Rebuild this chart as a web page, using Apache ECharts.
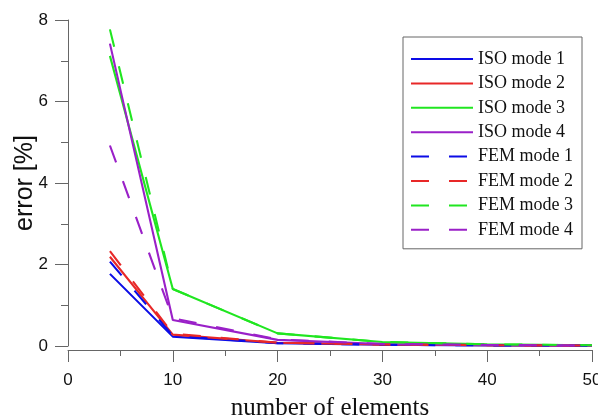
<!DOCTYPE html>
<html>
<head>
<meta charset="utf-8">
<script src="https://cdn.jsdelivr.net/npm/echarts@6/dist/echarts.min.js"></script>
<style>html,body{margin:0;padding:0;background:#fff;}#c{width:598px;height:417px;}</style>
</head>
<body>
<div id="c"></div>
<script>
const elements = [4, 10, 20, 30, 40, 50];
const isoMode1 = [1.77, 0.23, 0.07, 0.03, 0.015, 0.01];
const isoMode2 = [2.19, 0.28, 0.08, 0.035, 0.02, 0.01];
const isoMode3 = [7.12, 1.40, 0.31, 0.10, 0.04, 0.02];
const isoMode4 = [7.42, 0.64, 0.15, 0.05, 0.025, 0.01];
const femMode1 = [2.07, 0.25, 0.07, 0.03, 0.015, 0.01];
const femMode2 = [2.33, 0.30, 0.08, 0.035, 0.02, 0.01];
const femMode3 = [7.77, 1.40, 0.31, 0.10, 0.04, 0.02];
const femMode4 = [4.92, 0.68, 0.16, 0.05, 0.025, 0.01];
const seriesNames = ['ISO mode 1','ISO mode 2','ISO mode 3','ISO mode 4','FEM mode 1','FEM mode 2','FEM mode 3','FEM mode 4'];
const seriesData = [isoMode1, isoMode2, isoMode3, isoMode4, femMode1, femMode2, femMode3, femMode4];
const palette = ['#0c0ce6', '#e82828', '#20e620', '#9a20c8'];

const chart = echarts.init(document.getElementById('c'), null, {renderer: 'canvas'});
const series = seriesNames.map((name, i) => ({
  name: name,
  type: 'line',
  data: elements.map((x, j) => [x, seriesData[i][j]]),
  symbol: 'none',
  showSymbol: false,
  animation: false,
  lineStyle: {
    color: palette[i % 4],
    width: 2.1,
    type: i < 4 ? 'solid' : [18, 20]
  },
  itemStyle: {color: palette[i % 4]}
}));

chart.setOption({
  animation: false,
  backgroundColor: '#fff',
  grid: {left: 68, right: 6, top: 20, bottom: 71, containLabel: false, outerBoundsMode: 'none'},
  xAxis: {
    type: 'value', min: 0, max: 50, interval: 10,
    offset: 4,
    name: 'number of elements', nameLocation: 'middle', nameGap: 46,
    nameTextStyle: {fontFamily: 'Liberation Serif', fontSize: 25, color: '#111'},
    axisLine: {show: true, onZero: false, lineStyle: {color: '#666', width: 1}},
    axisTick: {show: true, length: 12, lineStyle: {color: '#666'}},
    minorTick: {show: true, splitNumber: 2, length: 6, lineStyle: {color: '#666'}},
    splitLine: {show: false},
    axisLabel: {fontFamily: 'Liberation Sans', fontSize: 17, color: '#111', margin: 22}
  },
  yAxis: {
    type: 'value', min: 0, max: 8, interval: 2,
    name: 'error [%]', nameLocation: 'middle', nameGap: 30,
    nameMoveOverlap: false,
    nameTextStyle: {fontFamily: 'Liberation Sans', fontSize: 25, color: '#111'},
    axisLine: {show: true, lineStyle: {color: '#666', width: 1}},
    axisTick: {show: true, length: 13, lineStyle: {color: '#666'}},
    minorTick: {show: true, splitNumber: 2, length: 7, lineStyle: {color: '#666'}},
    splitLine: {show: false},
    axisLabel: {fontFamily: 'Liberation Sans', fontSize: 17, color: '#111', margin: 20}
  },
  legend: {
    orient: 'vertical',
    left: 403, top: 37,
    padding: [12, 9, 9, 7],
    borderColor: '#666', borderWidth: 1,
    itemWidth: 62, itemHeight: 14, itemGap: 4.4,
    itemStyle: {opacity: 0},
    textStyle: {fontFamily: 'Liberation Serif', fontSize: 18, color: '#111', lineHeight: 20, padding: [0, 0, 0, 0]},
    data: seriesNames
  },
  series: series
});
</script>
</body>
</html>
